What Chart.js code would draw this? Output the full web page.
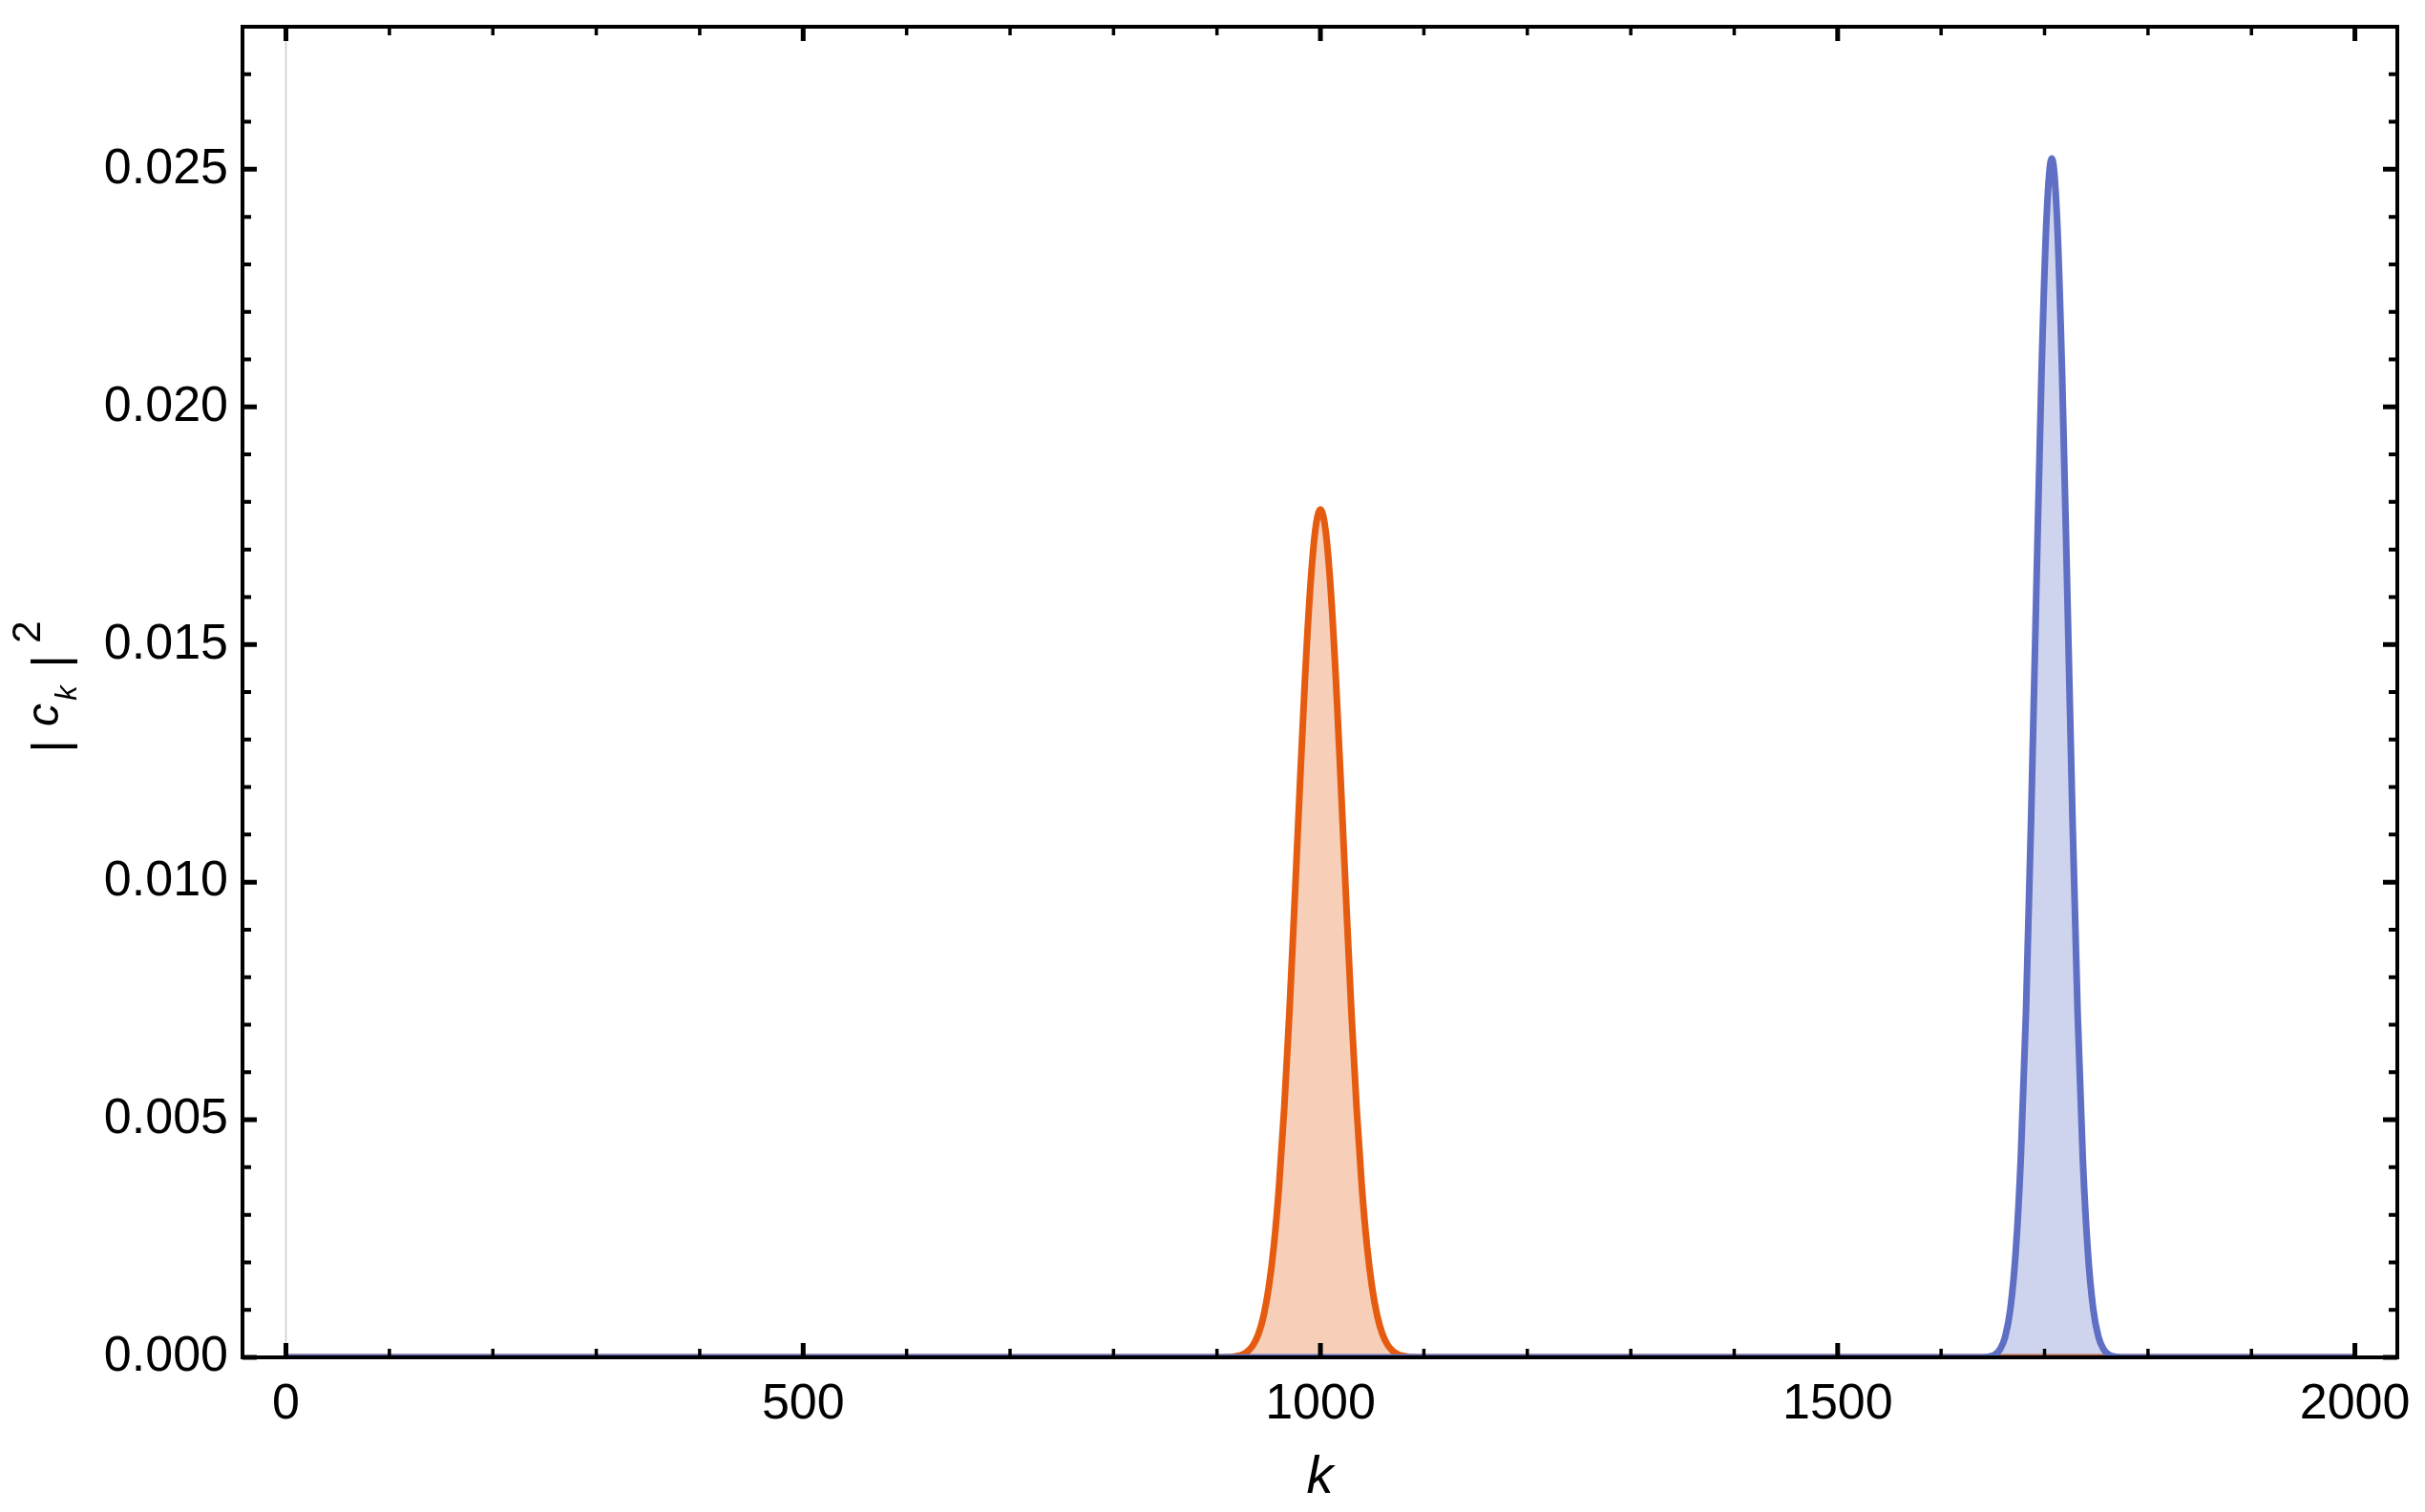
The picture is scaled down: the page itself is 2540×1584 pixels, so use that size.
<!DOCTYPE html>
<html><head><meta charset="utf-8">
<script src="https://cdn.jsdelivr.net/npm/chart.js@4.4.1/dist/chart.umd.min.js"></script>
<style>html,body{margin:0;padding:0;background:#fff;} #wrap{width:2540px;height:1584px;position:relative;}</style>
</head><body><div id="wrap"><canvas id="c"></canvas></div>
<script>
// ---- data ----
const orangeK = [0, 900,905,910,915,920,925,930,935,940,945,950,955,960,965,970,975,980,985,990,995,1000,
  1005,1010,1015,1020,1025,1030,1035,1040,1045,1050,1055,1060,1065,1070,1075,1080,1085,1090,1095,1100, 2000];
const orangeV = [0, 0.000001,0.000002,0.000005,0.000013,0.00003,0.000064,0.000133,0.000261,0.000487,0.000866,
  0.001464,0.00235,0.0036,0.00524,0.00725,0.00955,0.01196,0.01425,0.01614,0.0174,0.01784,
  0.0174,0.01614,0.01425,0.01196,0.00955,0.00725,0.00524,0.0036,0.00235,0.001464,
  0.000866,0.000487,0.000261,0.000133,0.000064,0.00003,0.000013,0.000005,0.000002,0.000001, 0];
const blueK = [0, 1637,1642,1647,1652,1657,1662,1667,1672,1677,1682,1687,1692,1697,1702,1707,
  1712,1717,1722,1727,1732,1737,1742,1747,1752,1757,1762,1767,1772,1777, 2000];
const blueV = [0, 0.0000014,0.0000054,0.0000188,0.0000595,0.00017,0.00044,0.001028,0.002177,0.00417,0.00723,
  0.01134,0.01609,0.02066,0.024,0.02523,0.024,0.02066,0.01609,0.01134,0.00723,0.00417,0.002177,
  0.001028,0.00044,0.00017,0.0000595,0.0000188,0.0000054,0.0000014, 0];
const xMajorTicks = [0, 500, 1000, 1500, 2000];
const xMinorTicks = [100,200,300,400,600,700,800,900,1100,1200,1300,1400,1600,1700,1800,1900];
const yMajorTicks = [0, 0.005, 0.010, 0.015, 0.020, 0.025];
const yMinorTicks = [0.001,0.002,0.003,0.004,0.006,0.007,0.008,0.009,0.011,0.012,0.013,0.014,
  0.016,0.017,0.018,0.019,0.021,0.022,0.023,0.024,0.026,0.027];
const xTitle = 'k';

const orangeLine = 'rgb(229,92,16)', orangeFill = 'rgba(229,92,16,0.3)';
const blueLine = 'rgb(94,111,196)', blueFill = 'rgba(94,111,196,0.3)';
const FONT = '"Liberation Sans", Arial, sans-serif';

const zeroPad = s => { s.paddingTop = 0; s.paddingBottom = 0; s.paddingLeft = 0; s.paddingRight = 0; };

const framePlugin = {
  id: 'frame',
  beforeDatasetsDraw(chart) {
    const {ctx, chartArea: a, scales: {x}} = chart;
    const px = x.getPixelForValue(0);
    ctx.save();
    ctx.strokeStyle = '#cccccc'; ctx.lineWidth = 1.5;
    ctx.beginPath(); ctx.moveTo(px, a.top); ctx.lineTo(px, a.bottom); ctx.stroke();
    ctx.restore();
  },
  afterDatasetsDraw(chart) {
    const {ctx, chartArea: a, scales: {x, y}} = chart;
    ctx.save();
    ctx.strokeStyle = '#000'; ctx.lineCap = 'butt';
    const tick = (vals, len, w) => {
      ctx.lineWidth = w;
      for (const v of vals) {
        const p = x.getPixelForValue(v);
        ctx.beginPath(); ctx.moveTo(p, a.bottom); ctx.lineTo(p, a.bottom - len);
        ctx.moveTo(p, a.top); ctx.lineTo(p, a.top + len); ctx.stroke();
      }
    };
    const ytick = (vals, len, w) => {
      ctx.lineWidth = w;
      for (const v of vals) {
        const p = y.getPixelForValue(v);
        ctx.beginPath(); ctx.moveTo(a.left, p); ctx.lineTo(a.left + len, p);
        ctx.moveTo(a.right, p); ctx.lineTo(a.right - len, p); ctx.stroke();
      }
    };
    tick(xMajorTicks, 15, 5); tick(xMinorTicks, 9, 3.5);
    ytick(yMajorTicks, 15, 5); ytick(yMinorTicks, 9, 4);
    ctx.lineWidth = 4;
    ctx.strokeRect(a.left, a.top, a.right - a.left, a.bottom - a.top);
    // y-axis title |c_k|^2 (rotated)
    ctx.fillStyle = '#000';
    ctx.textAlign = 'center'; ctx.textBaseline = 'alphabetic';
    const piece = (t, font, bx, cy) => {
      ctx.save(); ctx.translate(bx, cy); ctx.rotate(-Math.PI / 2);
      ctx.font = font; ctx.fillText(t, 0, 0); ctx.restore();
    };
    piece('|', '51px ' + FONT, 70, 782);
    piece('c', 'italic 48px ' + FONT, 61, 749);
    piece('k', 'italic 31px ' + FONT, 80, 726);
    piece('|', '51px ' + FONT, 70, 693);
    piece('2', '42px ' + FONT, 42, 662);
    ctx.restore();
  }
};

new Chart(document.getElementById('c'), {
  type: 'line',
  data: {
    datasets: [
      { data: blueK.map((k, i) => ({x: k, y: blueV[i]})), borderColor: blueLine, backgroundColor: blueFill,
        fill: 'origin', borderWidth: 7, pointRadius: 0, cubicInterpolationMode: 'monotone', order: 0 },
      { data: orangeK.map((k, i) => ({x: k, y: orangeV[i]})), borderColor: orangeLine, backgroundColor: orangeFill,
        fill: 'origin', borderWidth: 7, pointRadius: 0, cubicInterpolationMode: 'monotone', order: 1 }
    ]
  },
  options: {
    responsive: true, maintainAspectRatio: false, animation: false,
    layout: {padding: {top: 28, right: 29, left: 0, bottom: 0}},
    plugins: {legend: {display: false}, tooltip: {enabled: false}},
    scales: {
      x: {
        type: 'linear', min: -42, max: 2041,
        grid: {display: false, drawTicks: false}, border: {display: false},
        afterBuildTicks: s => { s.ticks = xMajorTicks.map(v => ({value: v})); },
        afterFit: s => { s.height = 162; zeroPad(s); },
        ticks: {font: {family: FONT, size: 52}, color: '#000', padding: 18, maxRotation: 0, autoSkip: false,
                callback: v => String(v)},
        title: {display: true, text: xTitle, color: '#000',
                font: {family: FONT, size: 56, style: 'italic'}, padding: {top: 0, bottom: 2}}
      },
      y: {
        type: 'linear', min: 0, max: 0.028,
        grid: {display: false, drawTicks: false}, border: {display: false},
        afterBuildTicks: s => { s.ticks = yMajorTicks.map(v => ({value: v})); },
        afterFit: s => { s.width = 254; zeroPad(s); },
        ticks: {font: {family: FONT, size: 52}, color: '#000', padding: 15, autoSkip: false,
                callback: v => Number(v).toFixed(3)}
      }
    }
  },
  plugins: [framePlugin]
});
</script></body></html>
